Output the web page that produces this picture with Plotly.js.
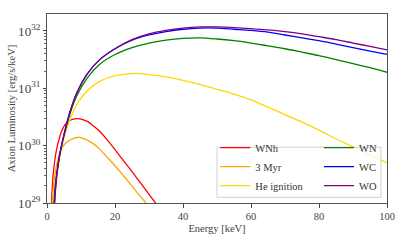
<!DOCTYPE html>
<html>
<head>
<meta charset="utf-8">
<script src="https://cdn.plot.ly/plotly-3.0.1.min.js"></script>
<style>html,body{margin:0;padding:0;background:#fff;}#chart{width:407px;height:244px;}</style>
</head>
<body>
<div id="chart"></div>
<script>
// Energy grids [keV] and log10 luminosity [erg/s/keV]
const names = ["WNh", "3 Myr", "He ignition", "WN", "WC", "WO"];
const colors = ["#ff0000", "#ffa500", "#ffd700", "#008000", "#0000ff", "#800080"];

const eWNh = [1.3, 1.76, 2.3, 2.8, 3.5, 4.2, 5.2, 6.2, 7.5, 9, 10.5, 12, 13.5, 15.5, 18, 20, 23, 26, 29, 31.9, 33];
const lWNh = [29.0, 29.46, 29.75, 29.93, 30.1, 30.24, 30.36, 30.42, 30.46, 30.47, 30.455, 30.42, 30.35, 30.25, 30.08, 29.93, 29.7, 29.47, 29.23, 29.0, 28.91];

const e3Myr = [1.5, 2, 2.5, 3.2, 3.8, 4.5, 5.8, 7.5, 9.2, 11, 13.5, 15.5, 18, 20, 23, 26, 29.4, 31];
const l3Myr = [29.0, 29.35, 29.56, 29.76, 29.88, 29.97, 30.06, 30.12, 30.15, 30.12, 30.04, 29.94, 29.78, 29.65, 29.44, 29.22, 28.98, 28.87];

const eHe = [2.3, 2.7, 3.2, 4, 5.3, 6.8, 8.7, 11.7, 15.5, 20, 26, 30, 35, 40, 45, 50, 55, 60, 65, 70, 75, 80, 85, 90, 95, 100];
const lHe = [29.0, 29.3, 29.58, 29.88, 30.2, 30.46, 30.71, 30.95, 31.12, 31.22, 31.26, 31.24, 31.2, 31.14, 31.07, 30.98, 30.9, 30.8, 30.67, 30.54, 30.41, 30.27, 30.12, 29.98, 29.84, 29.7];

const eWN = [2.0, 2.4, 3, 3.8, 5.3, 6.8, 8.7, 11.7, 15.5, 20, 25, 30, 35, 40, 45, 50, 55, 60, 65, 70, 75, 80, 85, 90, 95, 100];
const lWN = [29.0, 29.3, 29.58, 29.86, 30.25, 30.56, 30.86, 31.17, 31.42, 31.59, 31.71, 31.79, 31.84, 31.87, 31.88, 31.86, 31.83, 31.79, 31.74, 31.69, 31.63, 31.57, 31.5, 31.43, 31.36, 31.28];

const eWC = [2.2, 2.6, 3, 3.8, 5.3, 6.8, 8.7, 11.7, 15.5, 20, 25, 30, 35, 40, 45, 50, 55, 60, 65, 70, 75, 80, 85, 90, 95, 100];
const lWC = [29.0, 29.33, 29.55, 29.86, 30.265, 30.595, 30.91, 31.24, 31.5, 31.69, 31.84, 31.93, 31.99, 32.03, 32.05, 32.05, 32.03, 32.01, 31.98, 31.93, 31.88, 31.83, 31.77, 31.71, 31.65, 31.59];

const eWO = [2.2, 2.6, 3, 3.8, 5.3, 6.8, 8.7, 11.7, 15.5, 20, 25, 30, 35, 40, 45, 50, 55, 60, 65, 70, 75, 80, 85, 90, 95, 100];
const lWO = [29.0, 29.33, 29.55, 29.86, 30.265, 30.595, 30.91, 31.24, 31.5, 31.69, 31.85, 31.95, 32.01, 32.05, 32.07, 32.07, 32.06, 32.04, 32.02, 31.99, 31.95, 31.9, 31.85, 31.79, 31.73, 31.67];

const xTicks = [0, 20, 40, 60, 80, 100];

const energies = [eWNh, e3Myr, eHe, eWN, eWC, eWO];
const logLums = [lWNh, l3Myr, lHe, lWN, lWC, lWO];

const FONT = "'Liberation Serif', 'DejaVu Serif', serif";

const traces = names.map((n, i) => ({
  type: "scatter",
  mode: "lines",
  name: n,
  x: energies[i],
  y: logLums[i].map(v => Math.pow(10, v)),
  line: {color: colors[i], width: 1.3, shape: "spline", smoothing: 0.8},
  legend: i < 3 ? "legend" : "legend2",
  hoverinfo: "skip"
}));

const legendStyle = {
  bgcolor: "rgba(0,0,0,0)",
  borderwidth: 0,
  font: {family: FONT, size: 10.5, color: "#333"},
  xanchor: "left", yanchor: "bottom",
  y: 0.015,
  itemwidth: 30,
  tracegroupgap: 0
};

const layout = {
  width: 407, height: 244,
  margin: {l: 47, r: 20, t: 14, b: 41},
  paper_bgcolor: "#fff", plot_bgcolor: "#fff",
  font: {family: FONT, size: 10.5, color: "#444"},
  showlegend: true,
  legend: Object.assign({}, legendStyle, {x: 0.495}),
  legend2: Object.assign({}, legendStyle, {x: 0.80}),
  xaxis: {
    range: [0, 100],
    tickvals: xTicks,
    ticktext: xTicks.map(String),
    ticks: "outside", ticklen: 3.5, tickcolor: "#444",
    showgrid: false, zeroline: false,
    showline: true, linecolor: "#555", linewidth: 1, mirror: true,
    tickfont: {family: FONT, size: 10.5, color: "#444"},
    title: {text: "Energy [keV]", font: {family: FONT, size: 10.5, color: "#444"}, standoff: 3}
  },
  yaxis: {
    type: "log",
    range: [29, 32.296],
    dtick: 1,
    exponentformat: "power",
    ticks: "outside", ticklen: 3.5, tickcolor: "#444",
    minor: {ticks: "outside", ticklen: 2, tickcolor: "#666", dtick: "D1", showgrid: false},
    showgrid: false, zeroline: false,
    showline: true, linecolor: "#555", linewidth: 1, mirror: true,
    tickfont: {family: FONT, size: 10.5, color: "#444"},
    title: {text: "Axion Luminosity [erg/s/keV]", font: {family: FONT, size: 10.5, color: "#444"}, standoff: 0}
  },
  shapes: [{
    type: "rect", xref: "paper", yref: "paper", layer: "above",
    x0: 0.50, x1: 0.982, y0: 0.03, y1: 0.295,
    line: {color: "#d0d0d0", width: 1},
    fillcolor: "rgba(255,255,255,0.8)"
  }]
};

Plotly.newPlot("chart", traces, layout, {staticPlot: true, displayModeBar: false});
</script>
</body>
</html>
